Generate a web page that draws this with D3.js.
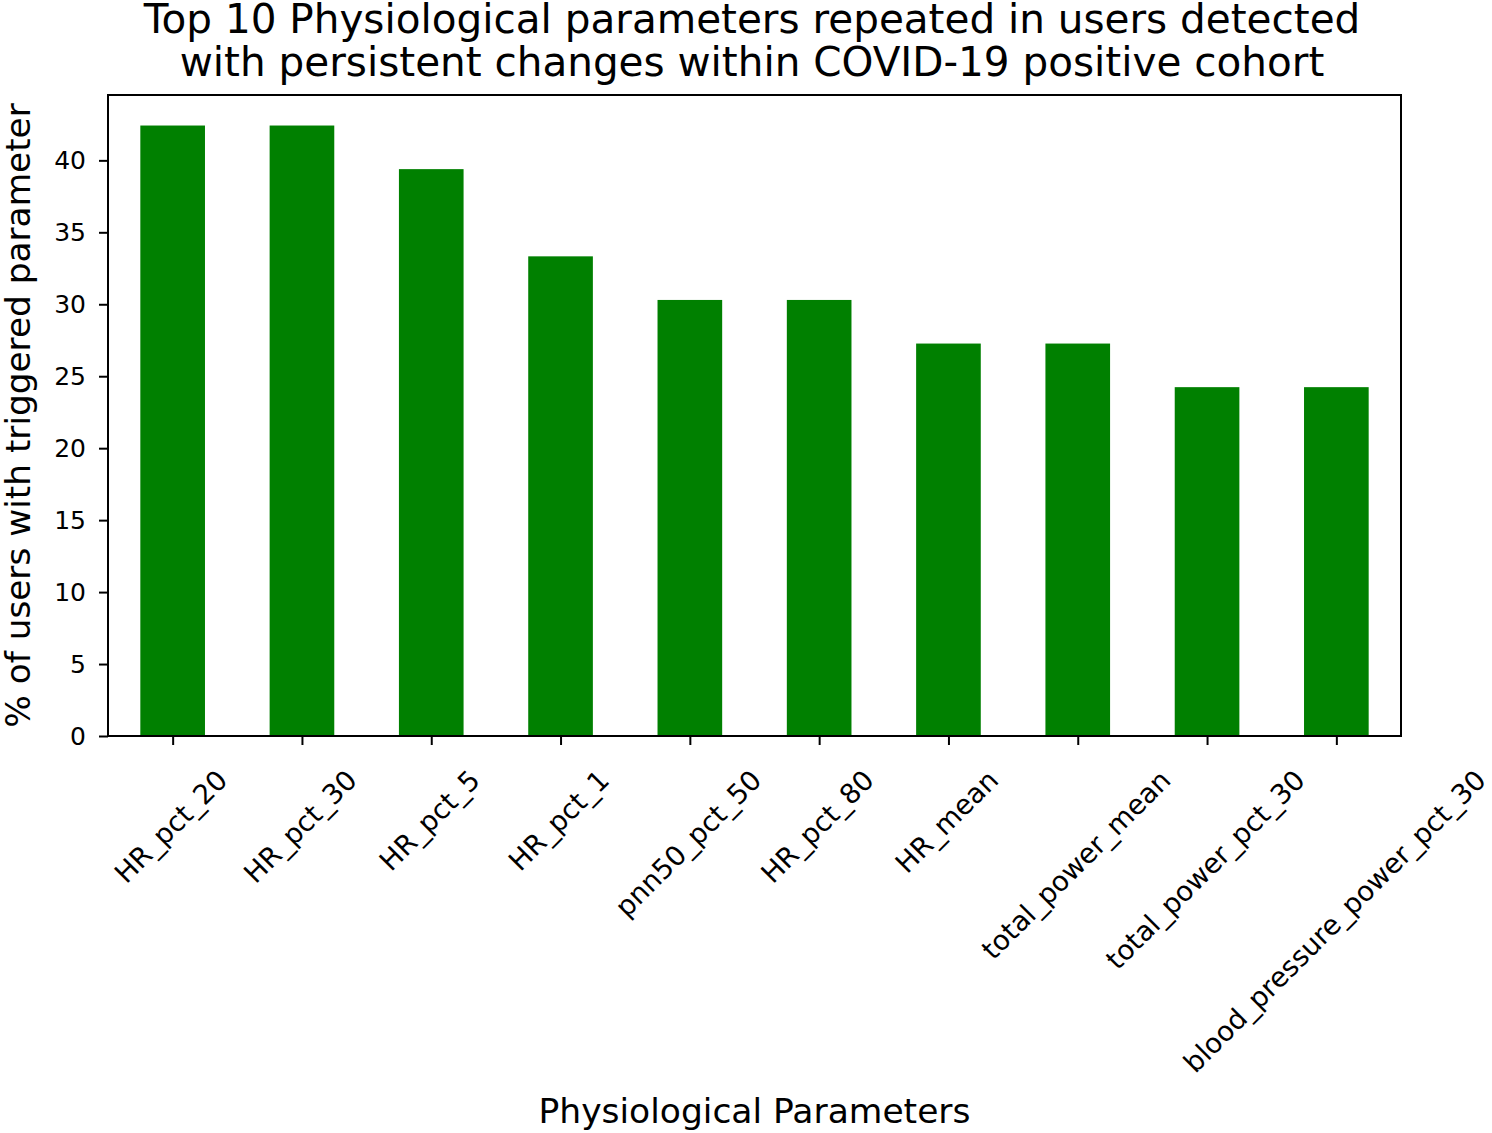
<!DOCTYPE html>
<html><head><meta charset="utf-8">
<script src="https://cdn.jsdelivr.net/npm/d3@7/dist/d3.min.js"></script>
<style>body{margin:0;background:#fff}svg{display:block}text{font-family:"DejaVu Sans",sans-serif;fill:#000}</style>
</head><body>
<svg id="c" width="1492" height="1133"></svg>
<script>
const categories = ["HR_pct_20","HR_pct_30","HR_pct_5","HR_pct_1","pnn50_pct_50","HR_pct_80","HR_mean","total_power_mean","total_power_pct_30","blood_pressure_power_pct_30"];
const values = [42.42,42.42,39.39,33.33,30.30,30.30,27.27,27.27,24.24,24.24];
const yTicks = [0,5,10,15,20,25,30,35,40];
const titleLines = ["Top 10 Physiological parameters repeated in users detected","with persistent changes within COVID-19 positive cohort"];
const xLabel = "Physiological Parameters";
const yLabel = "% of users with triggered parameter";

const svg = d3.select("#c");
const L=108, R=1401, T=95, B=736;
const x = d3.scaleLinear().domain([-0.5, categories.length-0.5]).range([L,R]);
const y = d3.scaleLinear().domain([0, d3.max(values)*1.05]).range([B,T]);

svg.append("g").selectAll("rect").data(values).join("rect")
  .attr("x",(d,i)=>x(i-0.25)).attr("width",(d,i)=>x(i+0.25)-x(i-0.25))
  .attr("y",d=>y(d)).attr("height",d=>B-y(d)).attr("fill","#008000");

// y axis
const ya = svg.append("g").attr("transform",`translate(${L},0)`)
  .call(d3.axisLeft(y).tickValues(yTicks).tickSize(9).tickPadding(13).tickFormat(d3.format("d")));
ya.select(".domain").remove();
ya.selectAll("text").style("font-size","25px");
ya.selectAll("line").attr("stroke-width",2);

// x axis ticks
const xa = svg.append("g").attr("transform",`translate(0,${B})`)
  .call(d3.axisBottom(x).tickValues(d3.range(categories.length)).tickSize(9).tickFormat(""));
xa.select(".domain").remove();
xa.selectAll("line").attr("stroke-width",2);

// rotated labels, bbox centered on tick
const fs=27.5, glyphTop = 767;
const lg = svg.append("g");
categories.forEach((c,i)=>{
  const t = lg.append("text").text(c).style("font-size",fs+"px").attr("text-anchor","middle").attr("dominant-baseline","central");
  const w = t.node().getComputedTextLength();
  const cy = glyphTop + (w/2 + 0.4*fs)/Math.SQRT2;
  const cx = x(i) - 2;
  t.attr("transform",`translate(${cx},${cy}) rotate(-45)`);
});

// frame
svg.append("rect").attr("x",L).attr("y",T).attr("width",R-L).attr("height",B-T)
  .attr("fill","none").attr("stroke","#000").attr("stroke-width",2);

// title (one text element, two lines)
const title = svg.append("text").attr("text-anchor","middle").style("font-size","40.5px");
titleLines.forEach((s,i)=>{
  title.append("tspan").text(s).attr("x",752).attr("y",33+i*43);
});
svg.append("text").text(xLabel).attr("x",(L+R)/2).attr("y",1123).attr("text-anchor","middle").style("font-size","34.5px");
svg.append("text").text(yLabel).attr("transform",`translate(30,${(T+B)/2}) rotate(-90)`).attr("text-anchor","middle").style("font-size","34.3px");
</script>
</body></html>
